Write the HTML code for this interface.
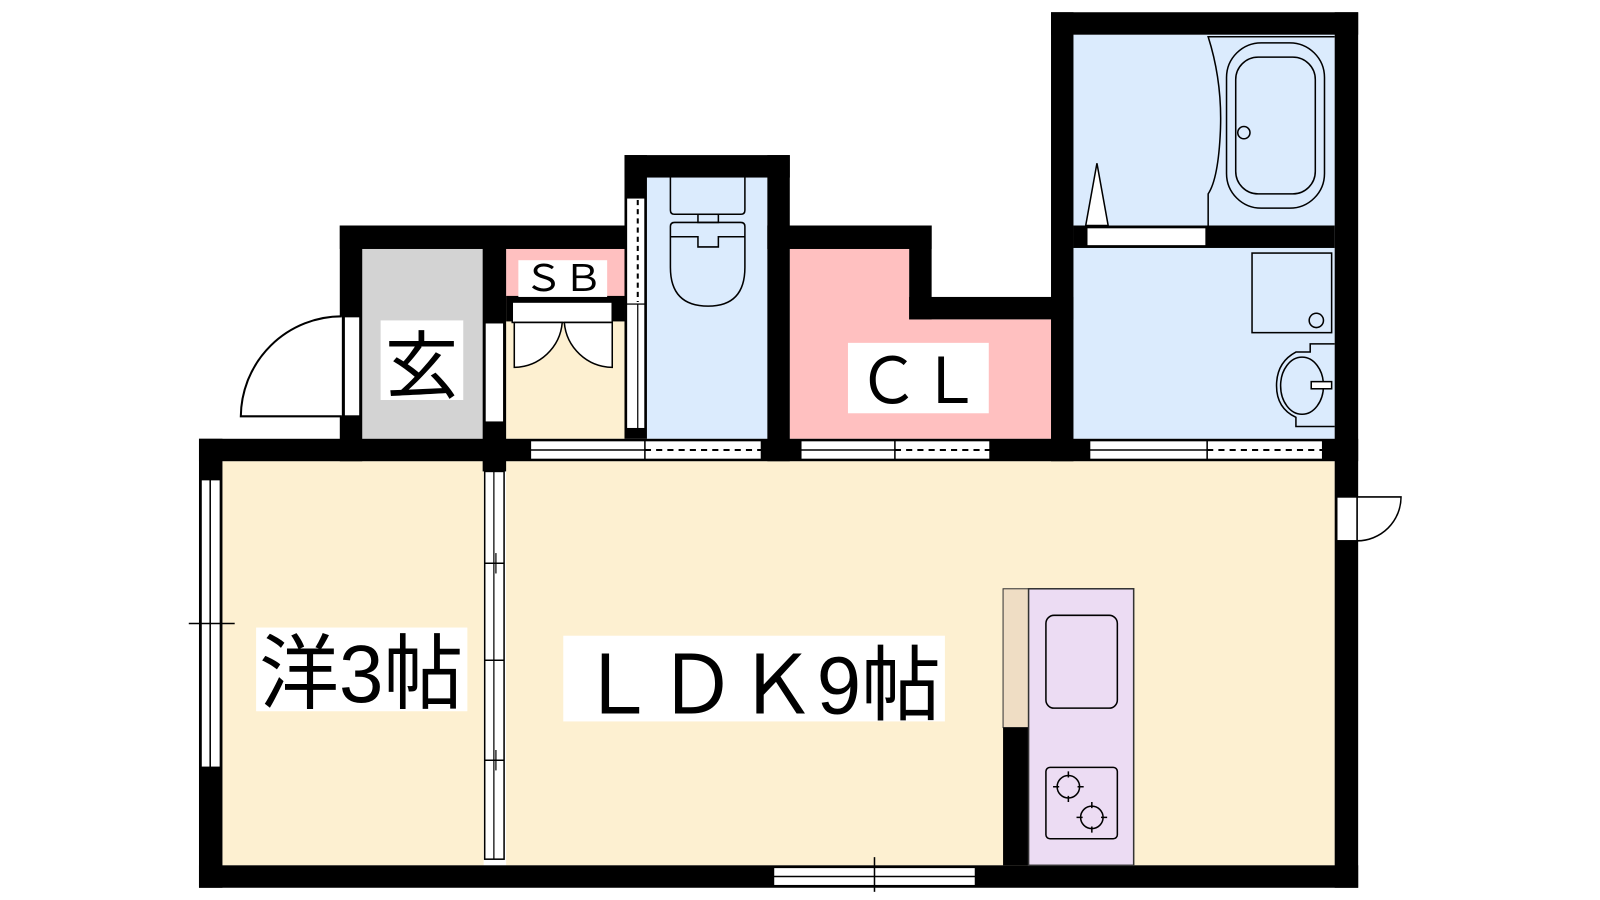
<!DOCTYPE html>
<html><head><meta charset="utf-8"><style>
html,body{margin:0;padding:0;background:#fff;}
svg{display:block;}
text{font-family:"Liberation Sans","Noto Sans CJK JP",sans-serif;fill:#000;}
</style></head><body>
<svg width="1600" height="900" viewBox="0 0 1568 882" xmlns="http://www.w3.org/2000/svg">
<rect width="1568" height="882" fill="#fff"/>
<rect x="218" y="452" width="256" height="396" fill="#fdf0d1"/>
<rect x="496" y="452" width="812" height="396" fill="#fdf0d1"/>
<rect x="355" y="244" width="118" height="186" fill="#d3d3d3"/>
<rect x="496" y="244" width="116" height="53" fill="#ffc0c0"/>
<rect x="496" y="297" width="116" height="133" fill="#fdf0d1"/>
<rect x="634" y="174" width="118" height="256" fill="#dbebfd"/>
<path d="M774 244H891V313H1030V430H774Z" fill="#ffc0c0"/>
<rect x="1052" y="34" width="256" height="396" fill="#dbebfd"/>
<g fill="#000">
<rect x="195" y="430" width="1136" height="22"/>
<rect x="333" y="221" width="22" height="231"/>
<rect x="333" y="221" width="280" height="23"/>
<rect x="473" y="221" width="23" height="241"/>
<rect x="195" y="430" width="23" height="440"/>
<rect x="195" y="848" width="1136" height="22"/>
<rect x="612" y="152" width="162" height="22"/>
<rect x="612" y="152" width="22" height="278"/>
<rect x="752" y="152" width="22" height="300"/>
<rect x="752" y="221" width="161" height="23"/>
<rect x="891" y="221" width="22" height="92"/>
<rect x="891" y="291" width="161" height="22"/>
<rect x="1030" y="12" width="22" height="440"/>
<rect x="1030" y="12" width="301" height="22"/>
<rect x="1308" y="12" width="23" height="858"/>
<rect x="1052" y="221" width="256" height="22"/>
<rect x="496" y="290" width="116" height="25"/>
</g>
<g stroke="#000" stroke-width="2" fill="#fff">
<rect x="337" y="310" width="16" height="98"/>
<path d="M335 310 A99 99 0 0 0 236 408 H335" fill="#fff"/>
<rect x="475" y="316" width="19" height="98"/>
<rect x="502" y="296" width="98" height="20" stroke-width="1.5"/>
<path d="M504 316V360A48 48 0 0 0 551 316Z" fill="#fff" stroke-width="1.5"/>
<path d="M600 316V360A48 48 0 0 1 553 316Z" fill="#fff" stroke-width="1.5"/>
<rect x="614" y="194" width="18" height="104" stroke-width="1.2"/>
<line x1="625" y1="196" x2="625" y2="296" stroke-dasharray="5 4" stroke-width="2"/>
<rect x="614" y="298" width="18" height="122" stroke-width="1.2"/>
<line x1="625" y1="298" x2="625" y2="420" stroke-width="1.2"/>
</g>
<g stroke="#000" stroke-width="1.5" fill="none">
<path d="M657 174V206Q657 210 661 210H726Q730 210 730 206V174"/>
<rect x="684" y="210" width="20" height="8"/>
<path d="M657 222Q657 218 661 218H726Q730 218 730 222V262Q730 300 694 300Q657 300 657 262Z"/>
<path d="M657 232H684V242H704V232H730"/>
</g>
<g stroke="#000" fill="#fff">
<rect x="520" y="432" width="226" height="18" stroke-width="1"/>
<line x1="520" y1="441" x2="632" y2="441" stroke-width="1.5"/>
<line x1="632" y1="441" x2="746" y2="441" stroke-width="2" stroke-dasharray="6 5"/>
<line x1="632" y1="432" x2="632" y2="450" stroke-width="1.5"/>
<rect x="785" y="432" width="185" height="18" stroke-width="1"/>
<line x1="785" y1="441" x2="877" y2="441" stroke-width="1.5"/>
<line x1="877" y1="441" x2="970" y2="441" stroke-width="2" stroke-dasharray="6 5"/>
<line x1="877" y1="432" x2="877" y2="450" stroke-width="1.5"/>
<rect x="1068" y="432" width="228" height="18" stroke-width="1"/>
<line x1="1068" y1="441" x2="1183" y2="441" stroke-width="1.5"/>
<line x1="1183" y1="441" x2="1296" y2="441" stroke-width="2" stroke-dasharray="6 5"/>
<line x1="1183" y1="432" x2="1183" y2="450" stroke-width="1.5"/>
<rect x="1065" y="223" width="117" height="18" stroke-width="1.5"/>
<rect x="197" y="470" width="19" height="282" stroke-width="1.5"/>
<line x1="206" y1="470" x2="206" y2="752" stroke-width="1.5"/>
<line x1="185" y1="611" x2="230" y2="611" stroke-width="1.5"/>
<rect x="475" y="462" width="19" height="380" stroke-width="1.5"/>
<line x1="484" y1="462" x2="484" y2="842" stroke-width="1.2"/>
<line x1="475" y1="552" x2="494" y2="552" stroke-width="1.5"/>
<line x1="475" y1="647" x2="494" y2="647" stroke-width="1.5"/>
<line x1="475" y1="745" x2="494" y2="745" stroke-width="1.5"/>
<line x1="486" y1="542" x2="486" y2="562" stroke-width="1.2"/>
<line x1="486" y1="735" x2="486" y2="755" stroke-width="1.2"/>
<rect x="758" y="850" width="198" height="18" stroke-width="1.5"/>
<line x1="758" y1="859" x2="956" y2="859" stroke-width="1.5"/>
<line x1="857" y1="840" x2="857" y2="874" stroke-width="1.5"/>
<rect x="1310" y="487" width="20" height="43" stroke-width="1.5"/>
<path d="M1330 487H1373A43 43 0 0 1 1330 530Z" stroke-width="1.5"/>
</g>
<g stroke="#000" stroke-width="1.5" fill="none">
<path d="M1308 36H1184Q1198 80 1196 128Q1194 175 1184 190V221"/>
<rect x="1202" y="42" width="96" height="162" rx="34"/>
<rect x="1211" y="56" width="78" height="134" rx="22"/>
<circle cx="1219" cy="130" r="6"/>
<path d="M1064 221L1075 160L1086 221Z" fill="#fff"/>
<rect x="1227" y="248" width="78" height="78"/>
<circle cx="1290" cy="314" r="7"/>
<path d="M1308 337H1284V345H1270Q1251 355 1251 378Q1251 400 1270 409V418H1308"/>
<ellipse cx="1276" cy="378" rx="21" ry="28"/>
<rect x="1285" y="374" width="20" height="7" fill="#fff"/>
</g>
<rect x="983" y="577" width="25" height="136" fill="#efddc4" stroke="#333" stroke-width="1"/>
<rect x="983" y="713" width="25" height="135" fill="#000"/>
<rect x="1008" y="577" width="103" height="271" fill="#ecdcf3" stroke="#333" stroke-width="1.5"/>
<g stroke="#000" stroke-width="1.5" fill="none">
<rect x="1025" y="603" width="70" height="91" rx="8"/>
<rect x="1025" y="752" width="70" height="70" rx="4"/>
<circle cx="1047" cy="771" r="11"/>
<circle cx="1070" cy="801" r="11"/>
<path d="M1047 756v6M1047 780v6M1032 771h6M1056 771h6M1070 786v6M1070 810v6M1055 801h6M1079 801h6"/>
</g>
<rect x="373" y="314" width="81" height="78" fill="#fff"/>
<text x="413" y="384" font-size="72" text-anchor="middle">玄</text>
<rect x="508" y="255" width="87" height="36" fill="#fff"/>
<text x="513" y="285" font-size="36" textLength="78" lengthAdjust="spacingAndGlyphs">ＳＢ</text>
<rect x="831" y="336" width="138" height="69" fill="#fff"/>
<text x="840" y="395" font-size="62" textLength="122" lengthAdjust="spacingAndGlyphs">ＣＬ</text>
<rect x="251" y="615" width="207" height="82" fill="#fff"/>
<text x="254" y="688" font-size="80" textLength="200" lengthAdjust="spacingAndGlyphs">洋3帖</text>
<rect x="552" y="623" width="374" height="84" fill="#fff"/>
<text x="566" y="699" font-size="80" textLength="356" lengthAdjust="spacingAndGlyphs">ＬＤＫ9帖</text>
</svg>
</body></html>
